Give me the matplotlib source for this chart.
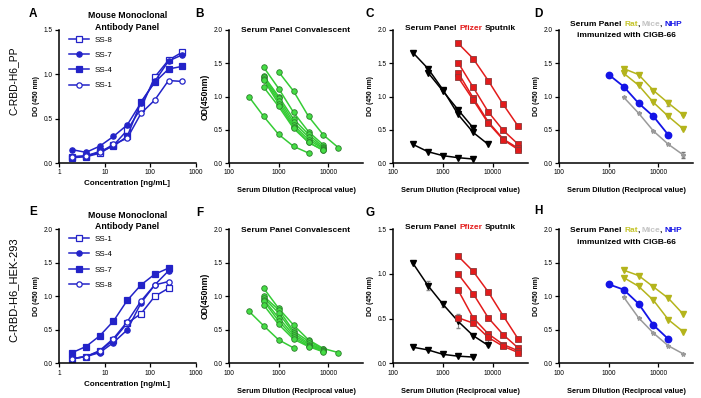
import matplotlib
matplotlib.use('Agg')
import matplotlib.pyplot as plt
from matplotlib.ticker import FixedLocator, FixedFormatter, NullLocator

plt.rcParams['font.family'] = ['Liberation Sans', 'DejaVu Sans']

# ---------------- DATA ----------------
# Panel A / E : mouse monoclonal antibodies (concentration ng/mL)
conc_A = [1.95, 3.9, 7.8, 15.6, 31.25, 62.5, 125, 250, 500]
labels_A = ['SS-8', 'SS-7', 'SS-4', 'SS-1']
A_SS8 = [0.06, 0.07, 0.11, 0.20, 0.37, 0.62, 0.97, 1.16, 1.25]
A_SS7 = [0.15, 0.12, 0.19, 0.30, 0.43, 0.68, 0.92, 1.15, 1.22]
A_SS4 = [0.07, 0.08, 0.13, 0.19, 0.30, 0.69, 0.91, 1.06, 1.09]
A_SS1 = [0.07, 0.08, 0.12, 0.21, 0.28, 0.56, 0.71, 0.93, 0.92]

conc_E = [1.95, 3.9, 7.8, 15.6, 31.25, 62.5, 125, 250]
labels_E = ['SS-1', 'SS-4', 'SS-7', 'SS-8']
E_SS1 = [0.07, 0.10, 0.18, 0.35, 0.60, 0.74, 1.00, 1.12]
E_SS4 = [0.07, 0.10, 0.16, 0.31, 0.50, 0.90, 1.17, 1.38]
E_SS7 = [0.16, 0.25, 0.41, 0.63, 0.94, 1.17, 1.33, 1.42]
E_SS8 = [0.07, 0.10, 0.19, 0.37, 0.62, 0.93, 1.17, 1.22]

# Panel B / F : convalescent sera
B_x = [[1000, 2000, 4000, 8000, 16000],
       [250, 500, 1000, 2000, 4000],
       [500, 1000, 2000, 4000, 8000],
       [500, 1000, 2000, 4000, 8000],
       [500, 1000, 2000, 4000, 8000],
       [500, 1000, 2000, 4000, 8000],
       [500, 1000, 2000, 4000, 8000],
       [500, 1000, 2000, 4000, 8000]]
B_y = [[1.37, 1.08, 0.70, 0.42, 0.23],
       [1.00, 0.70, 0.43, 0.25, 0.15],
       [1.44, 1.12, 0.76, 0.47, 0.27],
       [1.31, 1.00, 0.66, 0.43, 0.24],
       [1.29, 0.97, 0.61, 0.39, 0.22],
       [1.27, 0.93, 0.57, 0.35, 0.21],
       [1.25, 0.89, 0.54, 0.31, 0.19],
       [1.14, 0.85, 0.52, 0.31, 0.19]]

F_x = [[250, 500, 1000, 2000],
       [500, 1000, 2000, 4000, 8000, 16000],
       [500, 1000, 2000, 4000, 8000],
       [500, 1000, 2000, 4000, 8000],
       [500, 1000, 2000, 4000, 8000],
       [500, 1000, 2000, 4000, 8000],
       [500, 1000, 2000, 4000, 8000]]
F_y = [[0.78, 0.56, 0.35, 0.23],
       [1.12, 0.82, 0.57, 0.35, 0.22, 0.16],
       [1.00, 0.80, 0.48, 0.33, 0.21],
       [0.98, 0.75, 0.45, 0.30, 0.20],
       [0.95, 0.68, 0.42, 0.28, 0.19],
       [0.93, 0.63, 0.39, 0.26, 0.18],
       [0.87, 0.58, 0.36, 0.25, 0.17]]

# Panel C / G : Pfizer and Sputnik sera
C_sput_x = [[250, 500, 1000, 2000, 4000, 8000],
            [500, 1000, 2000, 4000],
            [250, 500, 1000, 2000, 4000]]
C_sput_y = [[1.66, 1.42, 1.10, 0.73, 0.46, 0.28],
            [1.36, 1.08, 0.80, 0.53],
            [0.28, 0.17, 0.11, 0.08, 0.06]]
pf_x = [2000, 4000, 8000, 16000, 32000]
C_pf_y = [[1.80, 1.57, 1.24, 0.88, 0.55],
          [1.51, 1.14, 0.77, 0.49, 0.28],
          [1.36, 0.98, 0.62, 0.36, 0.22],
          [1.29, 0.95, 0.60, 0.35, 0.20]]

G_sput_x = [[250, 500, 1000, 2000, 4000, 8000],
            [250, 500, 1000, 2000, 4000]]
G_sput_y = [[1.12, 0.87, 0.66, 0.47, 0.31, 0.20],
            [0.18, 0.15, 0.10, 0.08, 0.07]]
G_sput_err = [[0.0, 0.05, 0.03, 0.08, 0.0, 0.01],
              [0.0, 0.0, 0.0, 0.0, 0.0]]
G_pf_y = [[1.20, 1.03, 0.80, 0.53, 0.27],
          [1.00, 0.78, 0.51, 0.32, 0.17],
          [0.82, 0.51, 0.33, 0.21, 0.14],
          [0.51, 0.45, 0.29, 0.19, 0.12]]
G_pf_err = [[0.0, 0.03, 0.0, 0.0, 0.0],
            [0.0, 0.0, 0.0, 0.0, 0.0],
            [0.0, 0.0, 0.0, 0.0, 0.0],
            [0.0, 0.0, 0.05, 0.0, 0.0]]

# Panel D / H : Rat, Mice, NHP immunized with CIGB-66
nhp_x = [1000, 2000, 4000, 8000, 16000]
anim_x = [2000, 4000, 8000, 16000, 32000]
D_nhp = [1.33, 1.15, 0.90, 0.70, 0.42]
D_rat = [[1.42, 1.33, 1.09, 0.90, 0.72],
         [1.35, 1.17, 0.91, 0.70, 0.51]]
D_rat_err = [[0.0, 0.0, 0.0, 0.04, 0.0],
             [0.0, 0.0, 0.0, 0.0, 0.0]]
D_mice = [0.99, 0.75, 0.48, 0.28, 0.12]
D_mice_err = [0.0, 0.0, 0.0, 0.0, 0.05]
H_nhp = [1.18, 1.10, 0.89, 0.57, 0.36]
H_rat = [[1.39, 1.31, 1.14, 0.97, 0.73],
         [1.28, 1.15, 0.94, 0.65, 0.47]]
H_mice = [0.99, 0.68, 0.45, 0.26, 0.14]

# ---------------- STYLE ----------------
W, H = 701, 398
fig = plt.figure(figsize=(W / 100, H / 100), dpi=100)

BLUE = '#2323c8'
GREEN_L = '#35cc35'
GREEN_F = '#45dd45'
GREEN_E = '#2b7d2b'
RED = '#e31b1b'
OLIVE = '#b4b41c'
GREY = '#9a9a9a'
NHPB = '#1414e6'

lefts = [59, 229, 393, 559]
widths = [137, 134, 135, 134]
rows = [(30, 163), (229.3, 363.3)]


def make_ax(r, c):
    top, bot = rows[r]
    ax = fig.add_axes([lefts[c] / W, 1 - bot / H, widths[c] / W, (bot - top) / H])
    for s in ['top', 'right']:
        ax.spines[s].set_visible(False)
    for s in ['left', 'bottom']:
        ax.spines[s].set_linewidth(1.1)
    ax.tick_params(direction='out', length=3, width=0.9, labelsize=4.7, pad=1.5)
    ax.set_xscale('log')
    ax.xaxis.set_minor_locator(NullLocator())
    return ax


def set_xt(ax, lo, hi, ticks):
    ax.set_xlim(lo, hi)
    ax.xaxis.set_major_locator(FixedLocator(ticks))
    ax.xaxis.set_major_formatter(FixedFormatter([str(t) for t in ticks]))
    ax.xaxis.set_minor_locator(NullLocator())


def set_yt(ax, top):
    ax.set_ylim(0, top)
    ticks = [i * 0.5 for i in range(int(round(top / 0.5)) + 1)]
    ax.yaxis.set_major_locator(FixedLocator(ticks))
    ax.yaxis.set_major_formatter(FixedFormatter(['%.1f' % t for t in ticks]))


def color_line(ax, pieces, y, fs):
    r = fig.canvas.get_renderer()
    items = []
    for s, col, gap in pieces:
        t = ax.text(0, y, s, color=col, fontsize=fs, fontweight='bold',
                    transform=ax.transAxes, ha='left', va='center')
        items.append((t, gap))
    ws = [t.get_window_extent(r).width for t, _ in items]
    gps = [g * fig.dpi / 72 for _, g in items]
    axw = ax.get_window_extent(r).width
    x = 0.5 - (sum(ws) + sum(gps)) / 2 / axw
    for (t, g), w, gp in zip(items, ws, gps):
        x += gp / axw
        t.set_x(x)
        x += w / axw


mstyles = [('s', False), ('o', True), ('s', True), ('o', False)]

TFS = 6.0


def mab_panel(ax, x, ys, labels, top):
    for y, lab, (m, filled) in zip(ys, labels, mstyles):
        ax.plot(x, y, color=BLUE, lw=1.1, marker=m, ms=3.8,
                mfc=BLUE if filled else 'white', mec=BLUE, mew=0.9, label=lab)
    set_xt(ax, 1, 1000, [1, 10, 100, 1000])
    set_yt(ax, top)
    ax.set_xlabel('Concentration [ng/mL]', fontsize=5.8, fontweight='bold', labelpad=3)
    ax.set_ylabel('DO (450 nm)', fontsize=4.9, fontweight='bold', labelpad=3)
    ax.text(0.5, 1.062, 'Mouse Monoclonal\nAntibody Panel', transform=ax.transAxes,
            ha='center', va='center', fontsize=6.3, fontweight='bold', linespacing=1.4)
    ax.legend(loc='upper left', bbox_to_anchor=(0.075, 0.955), frameon=False,
              fontsize=5.8, handlelength=2.4, handletextpad=0.8, labelspacing=0.95,
              borderpad=0, borderaxespad=0)


def conv_panel(ax, xs, ys, ytitle):
    for x, y in zip(xs, ys):
        ax.plot(x, y, color=GREEN_L, lw=1.1, marker='o', ms=4.0,
                mfc=GREEN_F, mec=GREEN_E, mew=0.6)
    set_xt(ax, 100, 50000, [100, 1000, 10000])
    set_yt(ax, 2.0)
    ax.set_xlabel('Serum Dilution (Reciprocal value)', fontsize=5.3, fontweight='bold', labelpad=8)
    ax.set_ylabel('OD(450nm)', fontsize=6.2, fontweight='bold', labelpad=3)
    ax.text(0.5, ytitle, 'Serum Panel Convalescent', transform=ax.transAxes,
            ha='center', va='center', fontsize=TFS, fontweight='bold')


def vacc_panel(ax, sx, sy, serr, py, perr, top, ytitle):
    for i, (x, y) in enumerate(zip(sx, sy)):
        e = serr[i] if serr is not None else None
        ax.errorbar(x, y, yerr=e, color='black', lw=1.1, marker='v', ms=3.8,
                    mfc='black', mec='black', ecolor='#888888', elinewidth=0.8, capsize=1.4)
    for i, y in enumerate(py):
        e = perr[i] if perr is not None else None
        ax.errorbar(pf_x, y, yerr=e, color=RED, lw=1.1, marker='s', ms=4.0,
                    mfc=RED, mec='#8a3a3a', mew=0.6, ecolor='#888888', elinewidth=0.8, capsize=1.4)
    set_xt(ax, 100, 50000, [100, 1000, 10000])
    set_yt(ax, top)
    ax.set_xlabel('Serum Dilution (Reciprocal value)', fontsize=5.3, fontweight='bold', labelpad=8)
    ax.set_ylabel('DO (450 nm)', fontsize=4.9, fontweight='bold', labelpad=3)
    color_line(ax, [('Serum Panel', 'black', 0), ('Pfizer', RED, 1.7),
                    ('Sputnik', 'black', 1.7)], ytitle, TFS)


def anim_panel(ax, nhp, rats, rat_err, mice, mice_err, y1, y2):
    for i, y in enumerate(rats):
        e = rat_err[i] if rat_err is not None else None
        ax.errorbar(anim_x, y, yerr=e, color=OLIVE, lw=1.1, marker='v', ms=3.8,
                    mfc=OLIVE, mec=OLIVE, ecolor='#999999', elinewidth=0.8, capsize=1.4)
    ax.errorbar(anim_x, mice, yerr=mice_err, color=GREY, lw=1.1, marker='*', ms=3.2,
                mfc=GREY, mec=GREY, ecolor='#777777', elinewidth=0.8, capsize=1.6)
    ax.plot(nhp_x, nhp, color=NHPB, lw=1.3, marker='o', ms=4.6, mfc=NHPB, mec=NHPB)
    set_xt(ax, 100, 50000, [100, 1000, 10000])
    set_yt(ax, 2.0)
    ax.set_xlabel('Serum Dilution (Reciprocal value)', fontsize=5.3, fontweight='bold', labelpad=8)
    ax.set_ylabel('DO (450 nm)', fontsize=4.9, fontweight='bold', labelpad=3)
    color_line(ax, [('Serum Panel', 'black', 0), ('Rat', '#c4c42a', 1.7), (',', 'black', -0.3),
                    ('Mice', '#c4c4c4', 1.3), (',', 'black', -0.3), ('NHP', NHPB, 1.3)], y1, TFS)
    ax.text(0.5, y2, 'immunized with CIGB-66', transform=ax.transAxes,
            ha='center', va='center', fontsize=TFS, fontweight='bold')


axA = make_ax(0, 0)
mab_panel(axA, conc_A, [A_SS8, A_SS7, A_SS4, A_SS1], labels_A, 1.5)
axB = make_ax(0, 1)
conv_panel(axB, B_x, B_y, 0.995)
axC = make_ax(0, 2)
vacc_panel(axC, C_sput_x, C_sput_y, None, C_pf_y, None, 2.0, 1.01)
axD = make_ax(0, 3)
anim_panel(axD, D_nhp, D_rat, D_rat_err, D_mice, D_mice_err, 1.04, 0.955)

axE = make_ax(1, 0)
mab_panel(axE, conc_E, [E_SS1, E_SS4, E_SS7, E_SS8], labels_E, 2.0)
axF = make_ax(1, 1)
conv_panel(axF, F_x, F_y, 0.99)
axG = make_ax(1, 2)
vacc_panel(axG, G_sput_x, G_sput_y, G_sput_err, G_pf_y, G_pf_err, 1.5, 1.017)
axH = make_ax(1, 3)
anim_panel(axH, H_nhp, H_rat, None, H_mice, None, 0.99, 0.898)

# panel letters
for lab, (px, py) in zip('ABCDEFGH', [(33, 14), (200, 14), (370, 14), (538, 14),
                                      (33, 212), (200, 213), (370, 213), (538, 211)]):
    fig.text(px / W, 1 - py / H, lab, fontsize=8.5, fontweight='bold', ha='center', va='center')

# row labels
fig.text(14 / W, 1 - 81 / H, 'C-RBD-H6_PP', rotation=90, fontsize=7.4, ha='center', va='center')
fig.text(14 / W, 1 - 290 / H, 'C-RBD-H6_HEK-293', rotation=90, fontsize=8.0, ha='center', va='center')

fig.savefig('out.png', dpi=100)
